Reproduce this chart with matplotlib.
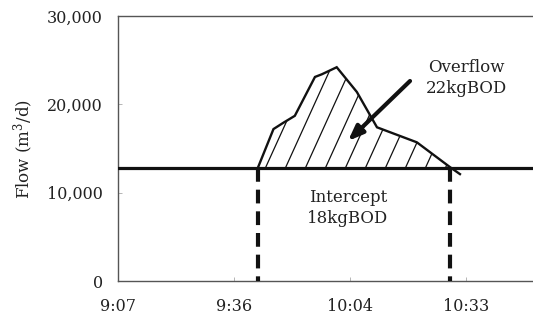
import matplotlib
matplotlib.use("Agg")
import matplotlib.pyplot as plt
from matplotlib.patches import PathPatch
import numpy as np

# ---- data (time in minutes after midnight, flow in m3/d) ----
flow_time = [582.0, 585.8, 588.2, 591.1, 596.1, 597.8, 601.5, 606.5, 611.5, 621.4, 629.6, 632.1]
flow_value = [12900, 17200, 17900, 18700, 23100, 23400, 24200, 21400, 17400, 15700, 12900, 12100]
threshold = 12800
event_bounds = [582.0, 629.6]
x_ticks = [547.2, 576.0, 604.8, 633.6]
x_tick_labels = ["9:07", "9:36", "10:04", "10:33"]
x_max = 662.4
y_ticks = [0, 10000, 20000, 30000]
y_tick_labels = ["0", "10,000", "20,000", "30,000"]
overflow_label = "Overflow\n22kgBOD"
intercept_label = "Intercept\n18kgBOD"

plt.rcParams['font.family'] = ['DejaVu Serif']
plt.rcParams['mathtext.fontset'] = 'dejavuserif'

fig = plt.figure(figsize=(5.33, 3.2), dpi=100)
ax = fig.add_axes([118/533, 1-281/320, 464/533, 265/320])
ax.set_xlim(x_ticks[0], x_max)
ax.set_ylim(0, 30000)

ft = np.array(flow_time)
fv = np.array(flow_value)

poly = ax.fill_between(ft, threshold, fv, where=fv >= threshold, interpolate=True,
                       facecolor='none', edgecolor='none', linewidth=0)
clip = PathPatch(poly.get_paths()[0], transform=ax.transData, facecolor='none',
                 edgecolor='none')
ax.add_patch(clip)

# steep hatch lines (style): spacing and slope in pixels
fig.canvas.draw()
px_per_min = ax.transData.transform((1, 0))[0] - ax.transData.transform((0, 0))[0]
px_per_unit = ax.transData.transform((0, 1))[1] - ax.transData.transform((0, 0))[1]
spacing_min = 20 / px_per_min
slope = 2.2 * px_per_min / px_per_unit
height = max(flow_value) - threshold
for k in range(-4, 14):
    x0 = ft[0] + 1.8 + k * spacing_min
    ln, = ax.plot([x0, x0 + height / slope], [threshold, threshold + height],
                  color='#111111', lw=0.9, zorder=2)
    ln.set_clip_path(clip)

ax.plot(ft, fv, color='#111111', lw=1.7, solid_joinstyle='miter', zorder=3)
ax.axhline(threshold, color='#111111', lw=2.3, zorder=4)

for xb in event_bounds:
    ax.plot([xb, xb], [threshold, 0], color='#111111', lw=3,
            linestyle=(0, (3.3, 1.9)), solid_capstyle='butt', zorder=4)

ax.text(633.6, 22980, overflow_label, ha='center', va='center', fontsize=12,
        color='#222222', linespacing=1.3)
ax.text(604.3, 8264, intercept_label, ha='center', va='center', fontsize=12,
        color='#222222', linespacing=1.3)
ax.annotate('', xy=(604.3, 15850), xytext=(619.7, 22640),
            arrowprops=dict(arrowstyle='-|>,head_length=0.9,head_width=0.35',
                            lw=3, color='#111111', shrinkA=0, shrinkB=0), zorder=5)

ax.set_xticks(x_ticks)
ax.set_xticklabels(x_tick_labels)
ax.set_yticks(y_ticks)
ax.set_yticklabels(y_tick_labels)
ax.tick_params(direction='in', length=3, width=0.6, color='#aaaaaa',
               labelsize=11.5, labelcolor='#222222')
ax.tick_params(axis='x', pad=12)
ax.tick_params(axis='y', pad=11)
for s in ax.spines.values():
    s.set_color('#555555')
    s.set_linewidth(1.0)
ax.spines['right'].set_visible(False)

ax.set_ylabel('Flow (m$^3$/d)', fontsize=12, color='#222222', labelpad=8)

fig.savefig('out.png', dpi=100)
